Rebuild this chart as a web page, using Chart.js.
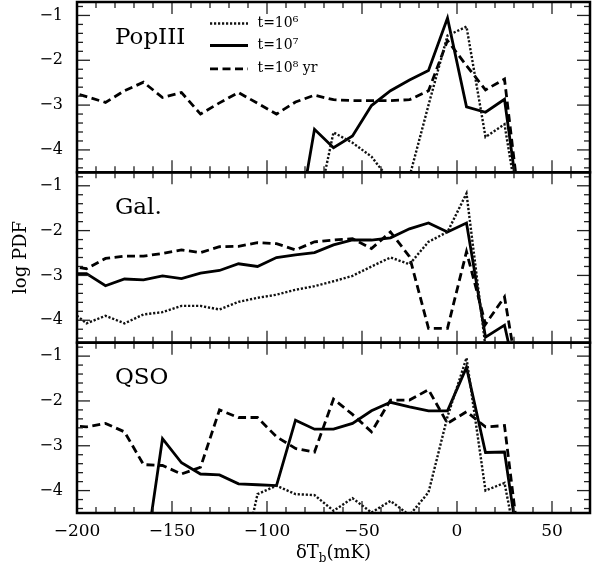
<!DOCTYPE html>
<html><head><meta charset="utf-8">
<script src="https://cdn.jsdelivr.net/npm/chart.js@4.4.1/dist/chart.umd.min.js"></script>
<style>html,body{margin:0;padding:0;background:#fff}#wrap{width:594px;height:579px;position:relative}</style>
</head><body><div id="wrap"><canvas id="c" width="594" height="579"></canvas></div>
<script>
// ---- data ----
const binCenters = [-205,-195,-185,-175,-165,-155,-145,-135,-125,-115,-105,-95,-85,-75,-65,-55,-45,-35,-25,-15,-5,5,15,25,35];
const xTicks = [-200,-150,-100,-50,0,50];
const yTicks = [-4,-3,-2,-1];
const panelNames = ['PopIII','Gal.','QSO'];
const seriesLabels = ['t=10⁶','t=10⁷','t=10⁸ yr'];
const xTitle = ['δT','b','(mK)'];
const yTitle = 'log PDF';

const popIII_t6 = [null,null,null,null,null,null,null,null,null,null,null,null,null,-5.6,-3.61,-3.84,-4.15,-4.7,-4.6,-3.0,-1.45,-1.25,-3.71,-3.43,-6];
const popIII_t7 = [null,null,null,null,null,null,null,null,null,null,null,null,-6,-3.54,-3.95,-3.69,-3.01,-2.68,-2.44,-2.23,-1.06,-3.04,-3.16,-2.87,-6];
const popIII_t8 = [-2.69,-2.81,-2.94,-2.68,-2.49,-2.83,-2.72,-3.2,-2.95,-2.72,-2.96,-3.2,-2.93,-2.78,-2.88,-2.9,-2.9,-2.9,-2.88,-2.68,-1.56,-2.12,-2.66,-2.42,-6];

const gal_t6 = [-3.73,-4.07,-3.9,-4.07,-3.87,-3.82,-3.68,-3.68,-3.76,-3.59,-3.5,-3.43,-3.32,-3.24,-3.13,-3.01,-2.8,-2.6,-2.75,-2.25,-2.03,-1.17,-4.6,-6,-6];
const gal_t7 = [-2.96,-2.96,-3.23,-3.08,-3.1,-3.01,-3.07,-2.95,-2.89,-2.74,-2.8,-2.6,-2.54,-2.49,-2.32,-2.21,-2.21,-2.16,-1.96,-1.83,-2.03,-1.83,-4.38,-4.11,-6];
const gal_t8 = [-2.78,-2.85,-2.62,-2.57,-2.57,-2.51,-2.43,-2.49,-2.36,-2.35,-2.27,-2.29,-2.43,-2.25,-2.21,-2.18,-2.4,-2.03,-2.58,-4.18,-4.18,-2.47,-4.09,-3.48,-6];

const qso_t6 = [null,null,null,null,null,null,null,null,null,-6,-4.08,-3.89,-4.08,-4.1,-4.45,-4.17,-4.49,-4.23,-4.55,-4.04,-2.35,-1.04,-4.0,-3.83,-6];
const qso_t7 = [null,null,null,null,-5.75,-2.84,-3.38,-3.63,-3.65,-3.85,-3.87,-3.89,-2.43,-2.63,-2.63,-2.5,-2.22,-2.03,-2.13,-2.22,-2.22,-1.25,-3.15,-3.14,-6];
const qso_t8 = [-2.55,-2.58,-2.5,-2.69,-3.42,-3.44,-3.63,-3.48,-2.2,-2.37,-2.37,-2.8,-3.06,-3.14,-1.96,-2.3,-2.69,-1.98,-1.98,-1.75,-2.5,-2.24,-2.58,-2.55,-6];

// ---- styles ----
const FONT = '"DejaVu Serif", serif';
const styles = [
  {borderColor:'#111', borderWidth:2.4, borderDash:[2.2,1.8]},
  {borderColor:'#000', borderWidth:2.8, borderDash:[]},
  {borderColor:'#000', borderWidth:2.8, borderDash:[8,4.5]}
];
function mk(arr, axis, s){
  return Object.assign({
    data: binCenters.map((x,i)=>({x:x, y:arr[i]})),
    yAxisID: axis, pointRadius:0, tension:0, fill:false, clip:0, spanGaps:false
  }, styles[s]);
}
const datasets = [
  mk(popIII_t6,'yP',0), mk(popIII_t7,'yP',1), mk(popIII_t8,'yP',2),
  mk(gal_t6,'yG',0), mk(gal_t7,'yG',1), mk(gal_t8,'yG',2),
  mk(qso_t6,'yQ',0), mk(qso_t7,'yQ',1), mk(qso_t8,'yQ',2)
];
datasets[0].label = seriesLabels[0]; datasets[1].label = seriesLabels[1]; datasets[2].label = seriesLabels[2];

const fmt = v => String(v).replace('-', '−');
function yAxis(){
  return {
    type:'linear', position:'left', stack:'panels', stackWeight:1,
    min:-4.5, max:-0.7,
    afterBuildTicks: s => { s.ticks = yTicks.map(v=>({value:v})); },
    afterFit: s => { s.width = 77; s.paddingTop = 0; s.paddingBottom = 0; },
    grid:{display:false, drawTicks:false}, border:{display:false},
    ticks:{color:'#000', font:{family:FONT, size:16}, padding:14, callback:v=>fmt(v)}
  };
}

const framePlugin = {
  id:'frame',
  afterDraw(chart){
    const ctx = chart.ctx, xs = chart.scales.x;
    const L = xs.left, R = xs.right;
    const ids = ['yP','yG','yQ'];
    function seg(a,b,c,d){ ctx.beginPath(); ctx.moveTo(a,b); ctx.lineTo(c,d); ctx.stroke(); }
    ids.forEach((id,k)=>{
      const ys = chart.scales[id];
      const T = ys.top, B = ys.bottom;
      ctx.save();
      ctx.strokeStyle = '#222'; ctx.lineWidth = 1.3;
      for (let v=-200; v<=70; v+=10){
        const px = xs.getPixelForValue(v);
        const len = (v%50===0) ? 12 : 6;
        seg(px,T,px,T+len); seg(px,B,px,B-len);
      }
      for (let i=-44; i<=-8; i+=2){
        const py = ys.getPixelForValue(i/10);
        const len = (i%10===0) ? 13 : 6;
        seg(L,py,L+len,py); seg(R,py,R-len,py);
      }
      ctx.strokeStyle = '#000'; ctx.lineWidth = 2.5;
      ctx.strokeRect(L,T,R-L,B-T);
      ctx.fillStyle = '#000';
      ctx.font = '23px ' + FONT;
      ctx.textAlign = 'left'; ctx.textBaseline = 'alphabetic';
      ctx.fillText(panelNames[k], xs.getPixelForValue(-180), ys.getPixelForValue(-1.63));
      ctx.restore();
    });
    // legend in top panel
    const yP = chart.scales.yP;
    const rows = [-1.18,-1.67,-2.19];
    ctx.save();
    for (let i=0;i<3;i++){
      const ds = chart.data.datasets[i];
      const py = yP.getPixelForValue(rows[i]);
      ctx.strokeStyle = ds.borderColor; ctx.lineWidth = ds.borderWidth; ctx.setLineDash(ds.borderDash);
      seg(xs.getPixelForValue(-130), py, xs.getPixelForValue(-110), py);
      ctx.setLineDash([]);
      ctx.fillStyle = '#000'; ctx.font = '14px ' + FONT;
      ctx.textAlign = 'left'; ctx.textBaseline = 'middle';
      ctx.fillText(ds.label, xs.getPixelForValue(-105), py);
    }
    ctx.restore();
    // y title
    const top = chart.scales.yP.top, bot = chart.scales.yQ.bottom;
    ctx.save();
    ctx.translate(21, (top+bot)/2); ctx.rotate(-Math.PI/2);
    ctx.fillStyle='#000'; ctx.font='18px ' + FONT; ctx.textAlign='center'; ctx.textBaseline='middle';
    ctx.fillText(yTitle, 0, 0);
    ctx.restore();
    // x title with subscript
    ctx.save();
    ctx.fillStyle='#000'; ctx.textBaseline='alphabetic'; ctx.textAlign='left';
    const big = '18px ' + FONT, small = '12px ' + FONT;
    ctx.font = big; const w1 = ctx.measureText(xTitle[0]).width, w3 = ctx.measureText(xTitle[2]).width;
    ctx.font = small; const w2 = ctx.measureText(xTitle[1]).width;
    let x0 = (L+R)/2 - (w1+w2+w3)/2; const by = 558;
    ctx.font = big; ctx.fillText(xTitle[0], x0, by); x0 += w1;
    ctx.font = small; ctx.fillText(xTitle[1], x0, by+4); x0 += w2;
    ctx.font = big; ctx.fillText(xTitle[2], x0, by);
    ctx.restore();
  }
};

new Chart(document.getElementById('c'), {
  type:'line',
  data:{datasets},
  options:{
    responsive:false, animation:false, devicePixelRatio:1,
    layout:{padding:{top:2, right:4, left:0, bottom:0}},
    plugins:{legend:{display:false}, tooltip:{enabled:false}},
    scales:{
      x:{type:'linear', position:'bottom', min:-200, max:70,
         afterBuildTicks: s => { s.ticks = xTicks.map(v=>({value:v})); },
         afterFit: s => { s.height = 66; s.paddingLeft = 0; s.paddingRight = 0; },
         grid:{display:false, drawTicks:false}, border:{display:false},
         ticks:{color:'#000', font:{family:FONT, size:17}, padding:8, maxRotation:0, autoSkip:false, callback:v=>fmt(v)}},
      yQ: yAxis(),
      yG: yAxis(),
      yP: yAxis()
    }
  },
  plugins:[framePlugin]
});
</script></body></html>
